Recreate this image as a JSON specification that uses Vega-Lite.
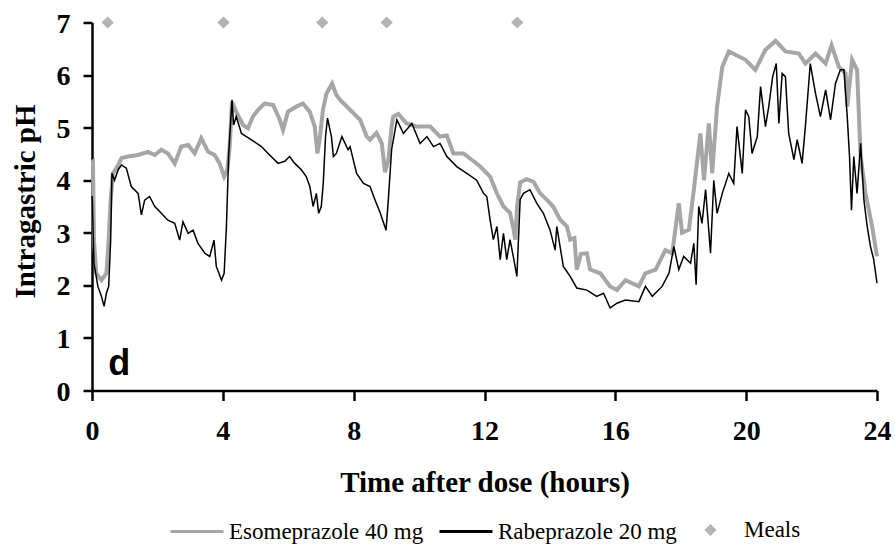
{
  "$schema": "https://vega.github.io/schema/vega-lite/v6.json",
  "width": 785,
  "height": 368,
  "autosize": {"type": "none"},
  "padding": {"left": 92, "top": 22.5, "right": 18, "bottom": 153.5},
  "background": "white",
  "datasets": {
    "eso": [
      {"t":0.0,"pH":4.35},{"t":0.03,"pH":4.36},{"t":0.06,"pH":2.86},{"t":0.13,"pH":2.23},{"t":0.29,"pH":2.1},{"t":0.44,"pH":2.23},{"t":0.51,"pH":2.86},{"t":0.57,"pH":3.62},{"t":0.64,"pH":4.13},{"t":0.8,"pH":4.29},{"t":0.9,"pH":4.42},{"t":1.1,"pH":4.45},{"t":1.41,"pH":4.48},{"t":1.71,"pH":4.54},{"t":1.92,"pH":4.48},{"t":2.12,"pH":4.58},{"t":2.32,"pH":4.51},{"t":2.53,"pH":4.32},{"t":2.73,"pH":4.64},{"t":2.94,"pH":4.67},{"t":3.14,"pH":4.51},{"t":3.34,"pH":4.8},{"t":3.55,"pH":4.54},{"t":3.75,"pH":4.48},{"t":3.9,"pH":4.32},{"t":4.04,"pH":4.07},{"t":4.14,"pH":4.2},{"t":4.21,"pH":4.64},{"t":4.28,"pH":5.49},{"t":4.41,"pH":5.3},{"t":4.62,"pH":5.05},{"t":4.77,"pH":4.99},{"t":4.92,"pH":5.21},{"t":5.08,"pH":5.34},{"t":5.28,"pH":5.46},{"t":5.54,"pH":5.43},{"t":5.74,"pH":5.15},{"t":5.84,"pH":4.96},{"t":5.99,"pH":5.3},{"t":6.25,"pH":5.4},{"t":6.45,"pH":5.46},{"t":6.66,"pH":5.3},{"t":6.81,"pH":5.02},{"t":6.89,"pH":4.51},{"t":6.96,"pH":4.77},{"t":7.06,"pH":5.34},{"t":7.17,"pH":5.65},{"t":7.34,"pH":5.84},{"t":7.47,"pH":5.62},{"t":7.58,"pH":5.53},{"t":7.89,"pH":5.34},{"t":8.2,"pH":5.15},{"t":8.4,"pH":4.83},{"t":8.5,"pH":4.77},{"t":8.7,"pH":4.9},{"t":8.86,"pH":4.7},{"t":8.96,"pH":4.15},{"t":9.06,"pH":4.39},{"t":9.16,"pH":5.02},{"t":9.21,"pH":5.21},{"t":9.37,"pH":5.26},{"t":9.62,"pH":5.08},{"t":9.93,"pH":5.02},{"t":10.34,"pH":5.02},{"t":10.64,"pH":4.83},{"t":10.85,"pH":4.85},{"t":11.05,"pH":4.51},{"t":11.36,"pH":4.51},{"t":11.61,"pH":4.39},{"t":11.87,"pH":4.26},{"t":12.17,"pH":4.07},{"t":12.38,"pH":3.75},{"t":12.58,"pH":3.5},{"t":12.78,"pH":3.38},{"t":12.88,"pH":3.1},{"t":12.94,"pH":2.87},{"t":13.0,"pH":3.5},{"t":13.09,"pH":3.96},{"t":13.29,"pH":4.02},{"t":13.5,"pH":3.97},{"t":13.7,"pH":3.75},{"t":13.9,"pH":3.63},{"t":14.1,"pH":3.5},{"t":14.31,"pH":3.25},{"t":14.52,"pH":3.12},{"t":14.62,"pH":2.87},{"t":14.75,"pH":2.9},{"t":14.82,"pH":2.3},{"t":14.95,"pH":2.6},{"t":15.13,"pH":2.61},{"t":15.23,"pH":2.3},{"t":15.54,"pH":2.23},{"t":15.84,"pH":1.98},{"t":16.05,"pH":1.91},{"t":16.31,"pH":2.1},{"t":16.72,"pH":1.98},{"t":16.92,"pH":2.23},{"t":17.23,"pH":2.3},{"t":17.53,"pH":2.67},{"t":17.74,"pH":2.61},{"t":17.94,"pH":3.56},{"t":18.04,"pH":3.0},{"t":18.25,"pH":3.06},{"t":18.4,"pH":3.82},{"t":18.6,"pH":4.89},{"t":18.71,"pH":4.0},{"t":18.86,"pH":5.08},{"t":18.96,"pH":4.13},{"t":19.11,"pH":5.4},{"t":19.27,"pH":6.16},{"t":19.47,"pH":6.45},{"t":19.98,"pH":6.29},{"t":20.28,"pH":6.1},{"t":20.59,"pH":6.48},{"t":20.9,"pH":6.65},{"t":21.2,"pH":6.45},{"t":21.61,"pH":6.41},{"t":21.81,"pH":6.22},{"t":22.12,"pH":6.41},{"t":22.43,"pH":6.22},{"t":22.61,"pH":6.57},{"t":22.83,"pH":6.16},{"t":23.04,"pH":6.03},{"t":23.09,"pH":5.4},{"t":23.24,"pH":6.29},{"t":23.39,"pH":6.1},{"t":23.5,"pH":4.45},{"t":23.65,"pH":3.75},{"t":23.85,"pH":3.12},{"t":24.0,"pH":2.55}
    ],
    "rabe": [
      {"t":0.0,"pH":3.7},{"t":0.01,"pH":3.62},{"t":0.06,"pH":2.42},{"t":0.18,"pH":1.98},{"t":0.29,"pH":1.79},{"t":0.37,"pH":1.6},{"t":0.44,"pH":1.85},{"t":0.51,"pH":1.98},{"t":0.57,"pH":2.86},{"t":0.61,"pH":4.13},{"t":0.69,"pH":4.0},{"t":0.8,"pH":4.2},{"t":0.9,"pH":4.29},{"t":1.05,"pH":4.23},{"t":1.2,"pH":3.88},{"t":1.41,"pH":3.75},{"t":1.51,"pH":3.34},{"t":1.61,"pH":3.62},{"t":1.76,"pH":3.69},{"t":1.92,"pH":3.5},{"t":2.12,"pH":3.37},{"t":2.32,"pH":3.24},{"t":2.53,"pH":3.18},{"t":2.68,"pH":2.86},{"t":2.78,"pH":3.21},{"t":2.94,"pH":2.99},{"t":3.09,"pH":3.05},{"t":3.24,"pH":2.8},{"t":3.45,"pH":2.61},{"t":3.6,"pH":2.55},{"t":3.73,"pH":2.86},{"t":3.8,"pH":2.36},{"t":3.96,"pH":2.1},{"t":4.04,"pH":2.23},{"t":4.11,"pH":3.12},{"t":4.18,"pH":4.51},{"t":4.28,"pH":5.53},{"t":4.33,"pH":5.05},{"t":4.41,"pH":5.21},{"t":4.57,"pH":4.89},{"t":4.72,"pH":4.83},{"t":4.97,"pH":4.73},{"t":5.18,"pH":4.64},{"t":5.43,"pH":4.48},{"t":5.69,"pH":4.32},{"t":5.89,"pH":4.36},{"t":6.04,"pH":4.45},{"t":6.2,"pH":4.32},{"t":6.4,"pH":4.2},{"t":6.55,"pH":4.07},{"t":6.66,"pH":3.88},{"t":6.76,"pH":3.5},{"t":6.86,"pH":3.75},{"t":6.93,"pH":3.37},{"t":7.01,"pH":3.5},{"t":7.07,"pH":3.94},{"t":7.14,"pH":4.83},{"t":7.2,"pH":5.18},{"t":7.32,"pH":4.83},{"t":7.38,"pH":4.45},{"t":7.47,"pH":4.51},{"t":7.64,"pH":4.83},{"t":7.83,"pH":4.58},{"t":7.89,"pH":4.64},{"t":8.09,"pH":4.13},{"t":8.3,"pH":3.94},{"t":8.5,"pH":3.88},{"t":8.65,"pH":3.63},{"t":8.81,"pH":3.38},{"t":8.99,"pH":3.05},{"t":9.06,"pH":3.63},{"t":9.16,"pH":4.58},{"t":9.32,"pH":5.15},{"t":9.52,"pH":4.89},{"t":9.78,"pH":5.08},{"t":10.03,"pH":4.7},{"t":10.24,"pH":4.83},{"t":10.44,"pH":4.64},{"t":10.64,"pH":4.7},{"t":10.85,"pH":4.45},{"t":11.15,"pH":4.26},{"t":11.46,"pH":4.13},{"t":11.76,"pH":4.0},{"t":11.97,"pH":3.75},{"t":12.07,"pH":3.69},{"t":12.17,"pH":3.25},{"t":12.27,"pH":2.87},{"t":12.38,"pH":3.12},{"t":12.48,"pH":2.49},{"t":12.58,"pH":2.99},{"t":12.68,"pH":2.49},{"t":12.78,"pH":2.87},{"t":12.88,"pH":2.55},{"t":12.99,"pH":2.17},{"t":13.09,"pH":3.63},{"t":13.19,"pH":3.75},{"t":13.39,"pH":3.82},{"t":13.6,"pH":3.56},{"t":13.8,"pH":3.37},{"t":14.0,"pH":3.06},{"t":14.16,"pH":2.67},{"t":14.21,"pH":3.12},{"t":14.41,"pH":2.36},{"t":14.62,"pH":2.17},{"t":14.82,"pH":1.95},{"t":15.13,"pH":1.91},{"t":15.43,"pH":1.79},{"t":15.64,"pH":1.85},{"t":15.84,"pH":1.57},{"t":16.05,"pH":1.66},{"t":16.31,"pH":1.72},{"t":16.72,"pH":1.69},{"t":16.92,"pH":1.98},{"t":17.13,"pH":1.79},{"t":17.43,"pH":1.98},{"t":17.64,"pH":2.23},{"t":17.79,"pH":2.74},{"t":17.94,"pH":2.3},{"t":18.09,"pH":2.55},{"t":18.3,"pH":2.42},{"t":18.4,"pH":2.8},{"t":18.47,"pH":2.01},{"t":18.55,"pH":3.5},{"t":18.65,"pH":3.18},{"t":18.76,"pH":3.82},{"t":18.91,"pH":2.61},{"t":19.01,"pH":4.0},{"t":19.11,"pH":3.37},{"t":19.27,"pH":3.75},{"t":19.47,"pH":4.13},{"t":19.62,"pH":3.94},{"t":19.72,"pH":5.02},{"t":19.88,"pH":4.13},{"t":19.98,"pH":5.34},{"t":20.08,"pH":5.21},{"t":20.18,"pH":4.51},{"t":20.34,"pH":4.83},{"t":20.44,"pH":5.78},{"t":20.59,"pH":5.02},{"t":20.69,"pH":5.4},{"t":20.81,"pH":5.97},{"t":20.92,"pH":6.22},{"t":21.0,"pH":5.08},{"t":21.1,"pH":6.03},{"t":21.2,"pH":5.97},{"t":21.3,"pH":4.89},{"t":21.46,"pH":4.39},{"t":21.56,"pH":4.77},{"t":21.71,"pH":4.32},{"t":21.81,"pH":5.02},{"t":21.96,"pH":6.22},{"t":22.12,"pH":5.65},{"t":22.27,"pH":5.21},{"t":22.43,"pH":5.72},{"t":22.58,"pH":5.15},{"t":22.73,"pH":5.84},{"t":22.88,"pH":6.1},{"t":22.99,"pH":6.1},{"t":23.09,"pH":5.21},{"t":23.16,"pH":4.45},{"t":23.22,"pH":3.43},{"t":23.29,"pH":4.45},{"t":23.39,"pH":3.75},{"t":23.5,"pH":4.7},{"t":23.6,"pH":3.62},{"t":23.7,"pH":3.12},{"t":23.8,"pH":2.74},{"t":23.9,"pH":2.49},{"t":24.0,"pH":2.04}
    ],
    "meals": [
      {"t":0.48,"pH":7},{"t":4.02,"pH":7},{"t":7.04,"pH":7},{"t":9.01,"pH":7},{"t":13.0,"pH":7}
    ],
    "lbl": [
      {"t":0.5,"pH":0.3,"label":"d"}
    ]
  },
  "layer": [
    {
      "data": {"name": "eso"},
      "mark": {"type": "line", "strokeWidth": 4, "strokeJoin": "miter"},
      "encoding": {
        "x": {
          "field": "t", "type": "quantitative",
          "scale": {"domain": [0, 24], "nice": false, "zero": false},
          "axis": {
            "values": [0, 4, 8, 12, 16, 20, 24],
            "format": "d",
            "title": "Time after dose (hours)",
            "titleX": 392.5, "titleY": 101, "titleBaseline": "alphabetic", "titleAlign": "center",
            "labelPadding": 17, "tickSize": 10, "labelFlush": false
          }
        },
        "y": {
          "field": "pH", "type": "quantitative",
          "scale": {"domain": [0, 7], "nice": false},
          "axis": {
            "values": [0, 1, 2, 3, 4, 5, 6, 7],
            "format": "d",
            "title": "Intragastric pH",
            "titleX": -58, "titleY": 178.5, "titleAngle": 270, "titleBaseline": "alphabetic", "titleAlign": "center",
            "labelPadding": 13, "tickSize": 9, "labelOffset": 1.5
          }
        },
        "color": {
          "datum": "Esomeprazole 40 mg",
          "scale": {"domain": ["Esomeprazole 40 mg", "Rabeprazole 20 mg"], "range": ["#a6a6a6", "#000000"]},
          "legend": {
            "orient": "none", "legendX": 77, "legendY": 481, "direction": "horizontal", "title": null,
            "symbolType": "stroke", "symbolSize": 2809, "symbolStrokeWidth": 3,
            "labelFont": "Liberation Serif", "labelFontSize": 23, "labelFontWeight": "normal", "labelColor": "#000000",
            "labelOffset": 4, "columnPadding": 9, "padding": 0, "labelLimit": 400
          }
        }
      }
    },
    {
      "data": {"name": "rabe"},
      "mark": {"type": "line", "strokeWidth": 1.5},
      "encoding": {
        "x": {"field": "t", "type": "quantitative"},
        "y": {"field": "pH", "type": "quantitative"},
        "color": {"datum": "Rabeprazole 20 mg"}
      }
    },
    {
      "data": {"name": "meals"},
      "mark": {"type": "point", "filled": true, "color": "#b3b3b3", "opacity": 1, "size": 150},
      "encoding": {
        "x": {"field": "t", "type": "quantitative"},
        "y": {"field": "pH", "type": "quantitative"},
        "shape": {
          "datum": "Meals",
          "scale": {"domain": ["Meals"], "range": ["diamond"]},
          "legend": {
            "orient": "none", "legendX": 607, "legendY": 496, "title": null,
            "symbolSize": 140, "symbolFillColor": "#b3b3b3", "symbolStrokeColor": "#b3b3b3", "symbolOpacity": 1,
            "labelFont": "Liberation Serif", "labelFontSize": 23, "labelFontWeight": "normal", "labelColor": "#000000",
            "labelOffset": 22, "padding": 0, "labelLimit": 200
          }
        }
      }
    },
    {
      "data": {"name": "lbl"},
      "mark": {"type": "text", "font": "Liberation Sans", "fontWeight": "bold", "fontSize": 36, "align": "left", "baseline": "alphabetic", "color": "#000000"},
      "encoding": {
        "x": {"field": "t", "type": "quantitative"},
        "y": {"field": "pH", "type": "quantitative"},
        "text": {"field": "label"}
      }
    }
  ],
  "config": {
    "view": {"stroke": null},
    "axis": {
      "grid": false,
      "domainColor": "#000000", "domainWidth": 2.5,
      "tickColor": "#000000", "tickWidth": 2.5,
      "labelFont": "Liberation Serif", "labelFontSize": 28, "labelFontWeight": "bold", "labelColor": "#000000",
      "titleFont": "Liberation Serif", "titleFontSize": 29, "titleFontWeight": "bold", "titleColor": "#000000",
      "labelOverlap": false
    }
  }
}
